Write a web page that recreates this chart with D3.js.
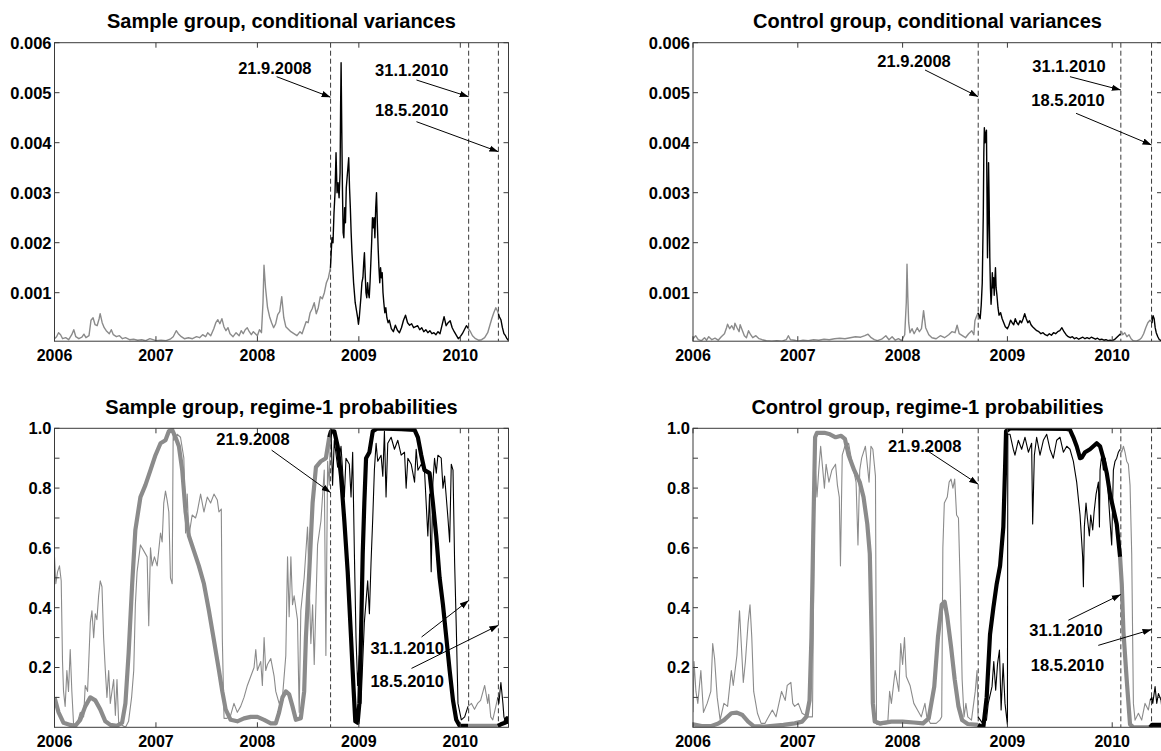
<!DOCTYPE html>
<html><head><meta charset="utf-8">
<script src="https://cdn.jsdelivr.net/npm/d3@7"></script>
<style>
body{margin:0;background:#fff}
svg{display:block;background:#fff}
text{font-family:"Liberation Sans",Arial,Helvetica,sans-serif;font-weight:bold;fill:#000}
</style>
</head><body>
<svg id="chart" width="1161" height="751"></svg>
<script>
// ---------------- data ----------------
const yearTicks = [2006, 2007, 2008, 2009, 2010];
const xDomain = [2006, 2010.475];
const varTicks = [0.001, 0.002, 0.003, 0.004, 0.005, 0.006];
const probTicks = [0.1, 0.2, 0.3, 0.4, 0.5, 0.6, 0.7, 0.8, 0.9, 1.0];
const probLabelTicks = [0.2, 0.4, 0.6, 0.8, 1.0];
const eventDates = [[2008, 9, 21], [2010, 1, 31], [2010, 5, 18]];
const eventLabels = ["21.9.2008", "31.1.2010", "18.5.2010"];
const titles = ["Sample group, conditional variances", "Control group, conditional variances",
                "Sample group, regime-1 probabilities", "Control group, regime-1 probabilities"];

// [decimal year, value]
const sampleVar = [
[2006.00,0.00008],[2006.02,0.00012],[2006.04,0.00020],[2006.06,0.00016],[2006.08,0.00008],[2006.11,0.00010],[2006.14,0.00006],[2006.17,0.00016],[2006.19,0.00026],[2006.21,0.00012],[2006.24,0.00008],[2006.27,0.00011],[2006.29,0.00017],[2006.31,0.00010],[2006.34,0.00014],[2006.36,0.00045],[2006.38,0.00050],[2006.40,0.00036],[2006.42,0.00034],[2006.44,0.00048],[2006.45,0.00058],[2006.47,0.00040],[2006.49,0.00030],[2006.51,0.00024],[2006.54,0.00018],[2006.56,0.00026],[2006.58,0.00016],[2006.61,0.00012],[2006.64,0.00014],[2006.67,0.00008],[2006.70,0.00010],[2006.74,0.00006],[2006.78,0.00007],[2006.82,0.00005],[2006.86,0.00006],[2006.90,0.00004],[2006.94,0.00008],[2006.97,0.00006],[2007.00,0.00004],[2007.05,0.00005],[2007.10,0.00004],[2007.14,0.00007],[2007.17,0.00012],[2007.20,0.00024],[2007.22,0.00018],[2007.25,0.00012],[2007.28,0.00008],[2007.32,0.00010],[2007.36,0.00008],[2007.40,0.00012],[2007.43,0.00010],[2007.46,0.00016],[2007.49,0.00012],[2007.51,0.00020],[2007.54,0.00014],[2007.57,0.00028],[2007.59,0.00040],[2007.61,0.00046],[2007.63,0.00038],[2007.65,0.00048],[2007.67,0.00032],[2007.69,0.00024],[2007.71,0.00030],[2007.73,0.00018],[2007.76,0.00012],[2007.79,0.00020],[2007.82,0.00014],[2007.84,0.00024],[2007.86,0.00018],[2007.88,0.00026],[2007.90,0.00030],[2007.92,0.00022],[2007.94,0.00016],[2007.96,0.00022],[2007.98,0.00018],[2008.00,0.00014],[2008.02,0.00026],[2008.04,0.00020],[2008.055,0.00080],[2008.065,0.00155],[2008.08,0.00110],[2008.10,0.00070],[2008.12,0.00052],[2008.14,0.00040],[2008.16,0.00030],[2008.18,0.00038],[2008.20,0.00056],[2008.22,0.00062],[2008.24,0.00092],[2008.26,0.00050],[2008.28,0.00032],[2008.30,0.00028],[2008.33,0.00022],[2008.36,0.00018],[2008.39,0.00014],[2008.42,0.00022],[2008.44,0.00018],[2008.46,0.00030],[2008.48,0.00042],[2008.50,0.00040],[2008.52,0.00060],[2008.54,0.00068],[2008.56,0.00080],[2008.58,0.00058],[2008.60,0.00070],[2008.62,0.00092],[2008.64,0.00088],[2008.66,0.00100],[2008.68,0.00120],[2008.70,0.00130],[2008.72,0.00150],
[2008.725,0.0017],[2008.735,0.0021],[2008.745,0.0020],[2008.755,0.0026],[2008.765,0.0030],[2008.775,0.0038],[2008.785,0.0030],[2008.795,0.0032],[2008.805,0.0029],[2008.815,0.0034],[2008.82,0.0047],[2008.825,0.0056],[2008.832,0.0042],[2008.838,0.0031],[2008.845,0.0022],[2008.852,0.0021],[2008.86,0.0027],[2008.868,0.0024],[2008.876,0.0031],[2008.884,0.0033],[2008.892,0.0035],[2008.90,0.0037],[2008.908,0.0031],[2008.916,0.0027],[2008.924,0.0022],[2008.932,0.0018],[2008.94,0.0015],[2008.948,0.0012],[2008.956,0.0010],[2008.964,0.0008],[2008.972,0.0007],[2008.98,0.0006],[2008.988,0.0005],[2008.996,0.00037],[2009.004,0.0005],[2009.012,0.0007],[2009.02,0.0009],[2009.03,0.0012],[2009.04,0.0013],[2009.048,0.0016],[2009.055,0.0018],[2009.062,0.0014],[2009.07,0.0010],[2009.078,0.0009],[2009.086,0.0012],[2009.094,0.0010],[2009.102,0.0009],[2009.11,0.0012],[2009.118,0.0016],[2009.126,0.0020],[2009.134,0.0025],[2009.142,0.0023],[2009.15,0.0025],[2009.158,0.0021],[2009.166,0.0027],[2009.174,0.0030],[2009.182,0.0024],[2009.19,0.0019],[2009.198,0.0015],[2009.206,0.0012],[2009.214,0.0015],[2009.222,0.0013],[2009.23,0.0014],[2009.238,0.0010],[2009.246,0.0008],[2009.256,0.0006],[2009.266,0.0007],[2009.276,0.0005],[2009.288,0.0004],[2009.30,0.00045],[2009.32,0.00028],[2009.34,0.00022],[2009.36,0.00035],[2009.38,0.00025],[2009.40,0.0002],[2009.42,0.0003],[2009.44,0.00045],[2009.46,0.00055],[2009.48,0.0004],[2009.50,0.00035],[2009.52,0.00038],[2009.54,0.0003],[2009.56,0.00032],[2009.58,0.00034],[2009.60,0.00026],[2009.62,0.0003],[2009.64,0.00022],[2009.66,0.00026],[2009.68,0.0002],[2009.70,0.00024],[2009.72,0.00018],[2009.74,0.0002],[2009.76,0.00016],[2009.78,0.00022],[2009.80,0.00018],[2009.82,0.00035],[2009.84,0.00052],[2009.86,0.00034],[2009.88,0.0004],[2009.90,0.00044],[2009.92,0.0003],[2009.94,0.00022],[2009.96,0.00015],[2009.98,0.00008],[2010.00,0.00012],[2010.02,0.00018],[2010.04,0.00026],[2010.06,0.00034],[2010.08,0.00028],
[2010.10,0.00022],[2010.12,0.00014],[2010.15,0.00008],[2010.18,0.00005],[2010.21,0.00006],[2010.24,0.00010],[2010.27,0.00020],[2010.29,0.00034],[2010.31,0.00048],[2010.33,0.00060],[2010.35,0.00070],[2010.365,0.00064],[2010.375,0.00058],
[2010.385,0.00052],[2010.40,0.00046],[2010.415,0.00030],[2010.43,0.00018],[2010.445,0.00014],[2010.46,0.00008],[2010.475,0.00004]
];

const controlVar = [
[2006.00,0.00008],[2006.025,0.00014],[2006.05,0.00006],[2006.08,0.00004],[2006.11,0.00010],[2006.13,0.00005],[2006.15,0.00012],[2006.18,0.00006],[2006.21,0.00009],[2006.24,0.00005],[2006.27,0.00012],[2006.30,0.00018],[2006.32,0.00030],[2006.33,0.00037],[2006.35,0.00028],[2006.37,0.00034],[2006.39,0.00026],[2006.40,0.00039],[2006.42,0.00030],[2006.44,0.00022],[2006.45,0.00036],[2006.47,0.00025],[2006.49,0.00014],[2006.51,0.00010],[2006.53,0.00024],[2006.55,0.00016],[2006.57,0.00010],[2006.60,0.00014],[2006.63,0.00008],[2006.66,0.00006],[2006.70,0.00004],[2006.75,0.00003],[2006.80,0.00004],[2006.85,0.00003],[2006.89,0.00006],[2006.91,0.00014],[2006.93,0.00006],[2006.97,0.00005],[2007.00,0.00003],[2007.05,0.00005],[2007.10,0.00004],[2007.15,0.00006],[2007.20,0.00005],[2007.25,0.00007],[2007.30,0.00006],[2007.35,0.00008],[2007.40,0.00009],[2007.45,0.00008],[2007.50,0.00010],[2007.55,0.00012],[2007.60,0.00011],[2007.64,0.00014],[2007.67,0.00017],[2007.70,0.00010],[2007.73,0.00006],[2007.76,0.00004],[2007.80,0.00007],[2007.84,0.00014],[2007.87,0.00006],[2007.90,0.00012],[2007.93,0.00005],[2007.96,0.00008],[2007.99,0.00004],[2008.02,0.00016],[2008.035,0.00080],[2008.042,0.00157],[2008.05,0.00090],[2008.058,0.00040],[2008.07,0.00020],[2008.09,0.00028],[2008.11,0.00018],[2008.14,0.00030],[2008.16,0.00022],[2008.18,0.00028],[2008.20,0.00064],[2008.22,0.00030],[2008.25,0.00016],[2008.28,0.00010],[2008.32,0.00008],[2008.36,0.00014],[2008.40,0.00010],[2008.44,0.00016],[2008.47,0.00022],[2008.50,0.00020],[2008.52,0.00035],[2008.54,0.00018],[2008.57,0.00014],[2008.60,0.00010],[2008.63,0.00018],[2008.66,0.00024],[2008.68,0.00016],[2008.69,0.00044],[2008.70,0.00050],[2008.72,0.00060],
[2008.73,0.00055],[2008.74,0.00048],[2008.75,0.00075],[2008.76,0.00120],[2008.77,0.00260],[2008.775,0.00380],[2008.78,0.00430],[2008.787,0.00400],[2008.795,0.00420],[2008.80,0.00425],[2008.805,0.00300],[2008.81,0.00170],[2008.815,0.00240],[2008.82,0.00360],[2008.826,0.00280],[2008.832,0.00170],[2008.838,0.00110],[2008.844,0.00077],[2008.85,0.00100],[2008.856,0.00140],[2008.862,0.00110],[2008.868,0.00130],[2008.874,0.00095],[2008.88,0.00125],[2008.886,0.00150],[2008.892,0.00110],[2008.90,0.00095],[2008.91,0.00070],[2008.92,0.00055],[2008.935,0.00060],[2008.95,0.00048],[2008.965,0.00040],[2008.98,0.00032],[2009.00,0.00028],[2009.015,0.00035],[2009.03,0.00045],[2009.045,0.00040],[2009.06,0.00036],[2009.075,0.00048],[2009.09,0.00040],[2009.105,0.00036],[2009.12,0.00044],[2009.135,0.00040],[2009.15,0.00048],[2009.165,0.00058],[2009.18,0.00048],[2009.195,0.00040],[2009.21,0.00044],[2009.225,0.00036],[2009.24,0.00032],[2009.26,0.00028],[2009.28,0.00024],[2009.30,0.00022],[2009.32,0.00018],[2009.34,0.00020],[2009.36,0.00016],[2009.38,0.00014],[2009.40,0.00018],[2009.42,0.00015],[2009.44,0.00020],[2009.46,0.00018],[2009.48,0.00022],[2009.50,0.00024],[2009.52,0.00030],[2009.54,0.00022],[2009.56,0.00016],[2009.58,0.00012],[2009.60,0.00010],[2009.62,0.00012],[2009.64,0.00008],[2009.66,0.00010],[2009.68,0.00007],[2009.70,0.00009],[2009.72,0.00011],[2009.74,0.00008],[2009.76,0.00010],[2009.78,0.00008],[2009.80,0.00011],[2009.82,0.00009],[2009.84,0.00007],[2009.86,0.00009],[2009.88,0.00006],[2009.90,0.00007],[2009.92,0.00005],[2009.94,0.00006],[2009.96,0.00004],[2009.98,0.00005],[2010.00,0.00004],[2010.02,0.00006],[2010.04,0.00010],[2010.06,0.00014],[2010.08,0.00018],
[2010.09,0.00022],[2010.10,0.00016],[2010.12,0.00020],[2010.14,0.00012],[2010.16,0.00016],[2010.18,0.00008],[2010.20,0.00004],[2010.23,0.00003],[2010.26,0.00006],[2010.28,0.00010],[2010.30,0.00018],[2010.32,0.00030],[2010.34,0.00040],[2010.36,0.00045],[2010.375,0.00042],
[2010.38,0.00040],[2010.385,0.00050],[2010.39,0.00054],[2010.40,0.00048],[2010.41,0.00030],[2010.42,0.00020],[2010.435,0.00012],[2010.45,0.00006],[2010.475,0.00003]
];

const sampleThin = [
[2006.0,0.57],[2006.013,0.48],[2006.03,0.52],[2006.049,0.54],[2006.066,0.49],[2006.079,0.22],[2006.089,0.12],[2006.105,0.07],[2006.122,0.19],[2006.138,0.12],[2006.155,0.26],[2006.171,0.12],[2006.188,0.01],[2006.221,0.01],[2006.254,0.05],[2006.287,0.035],[2006.303,0.14],[2006.326,0.12],[2006.353,0.35],[2006.369,0.39],[2006.386,0.30],[2006.402,0.38],[2006.418,0.36],[2006.435,0.44],[2006.451,0.49],[2006.468,0.47],[2006.484,0.30],[2006.501,0.19],[2006.517,0.10],[2006.534,0.19],[2006.55,0.08],[2006.583,0.16],[2006.6,0.04],[2006.616,0.16],[2006.633,0.01],[2006.649,0.01],[2006.70,0.0],[2006.73,0.02],[2006.76,0.1],[2006.781,0.19],[2006.797,0.41],[2006.814,0.52],[2006.847,0.61],[2006.88,0.59],[2006.913,0.57],[2006.929,0.34],[2006.946,0.60],[2006.962,0.54],[2006.985,0.57],[2007.012,0.54],[2007.045,0.65],[2007.061,0.62],[2007.077,0.75],[2007.094,0.79],[2007.11,0.76],[2007.127,0.72],[2007.143,0.50],[2007.16,0.48],[2007.17,1.0],[2007.176,0.96],[2007.209,0.98],[2007.242,0.97],[2007.275,0.90],[2007.292,0.65],[2007.308,0.78],[2007.325,0.64],[2007.357,0.71],[2007.39,0.70],[2007.407,0.72],[2007.44,0.78],[2007.473,0.72],[2007.506,0.77],[2007.539,0.75],[2007.572,0.78],[2007.605,0.76],[2007.621,0.72],[2007.644,0.73],[2007.654,0.30],[2007.671,0.03],[2007.70,0.03],[2007.736,0.04],[2007.769,0.08],[2007.802,0.05],[2007.835,0.07],[2007.868,0.10],[2007.901,0.14],[2007.934,0.17],[2007.967,0.20],[2007.984,0.26],[2008.0,0.19],[2008.033,0.22],[2008.049,0.14],[2008.066,0.30],[2008.082,0.19],[2008.099,0.21],[2008.132,0.23],[2008.165,0.17],[2008.181,0.12],[2008.214,0.08],[2008.247,0.10],[2008.28,0.24],[2008.297,0.57],[2008.313,0.37],[2008.33,0.57],[2008.346,0.41],[2008.362,0.44],[2008.395,0.36],[2008.412,0.05],[2008.428,0.39],[2008.461,0.50],[2008.494,0.67],[2008.527,0.28],[2008.544,0.41],[2008.56,0.21],[2008.593,0.61],[2008.626,0.69],[2008.659,0.86],[2008.675,0.24],[2008.692,0.89],[2008.708,0.81],[2008.72,1.0],
[2008.725,1.0],[2008.741,0.81],[2008.758,0.96],[2008.791,0.87],[2008.824,0.94],[2008.857,0.77],[2008.873,0.90],[2008.906,0.88],[2008.923,0.77],[2008.939,0.92],[2008.956,0.58],[2008.972,0.30],[2008.988,0.14],[2009.005,0.24],[2009.021,0.08],[2009.054,0.35],[2009.087,0.49],[2009.104,0.38],[2009.12,0.55],[2009.137,0.70],[2009.153,0.86],[2009.17,0.95],[2009.186,0.89],[2009.219,0.91],[2009.236,0.84],[2009.252,0.99],[2009.268,0.77],[2009.285,0.95],[2009.318,0.97],[2009.351,0.93],[2009.384,0.96],[2009.417,0.91],[2009.45,0.92],[2009.466,0.80],[2009.483,0.90],[2009.516,0.88],[2009.549,0.82],[2009.565,0.93],[2009.582,0.86],[2009.615,0.88],[2009.647,0.86],[2009.68,0.64],[2009.697,0.78],[2009.713,0.52],[2009.73,0.82],[2009.746,0.90],[2009.763,0.85],[2009.779,0.91],[2009.812,0.90],[2009.829,0.80],[2009.845,0.84],[2009.878,0.70],[2009.895,0.62],[2009.911,0.88],[2009.928,0.86],[2009.944,0.55],[2009.96,0.34],[2009.977,0.08],[2010.01,0.025],[2010.043,0.035],[2010.076,0.07],
[2010.11,0.08],[2010.14,0.06],[2010.17,0.08],[2010.20,0.09],[2010.24,0.14],[2010.27,0.08],[2010.28,0.11],[2010.30,0.035],[2010.32,0.025],[2010.35,0.07],[2010.37,0.10],
[2010.38,0.08],[2010.40,0.15],[2010.42,0.08],[2010.43,0.035],[2010.45,0.013],[2010.46,0.035],[2010.475,0.013]
];

const sampleThick = [
[2006.0,0.10],[2006.04,0.05],[2006.089,0.015],[2006.155,0.008],[2006.204,0.005],[2006.254,0.025],[2006.303,0.07],[2006.353,0.10],[2006.402,0.09],[2006.451,0.06],[2006.501,0.02],[2006.55,0.008],[2006.616,0.005],[2006.666,0.015],[2006.699,0.08],[2006.731,0.25],[2006.764,0.47],[2006.797,0.66],[2006.847,0.77],[2006.896,0.81],[2006.946,0.86],[2006.995,0.91],[2007.045,0.95],[2007.094,0.96],[2007.127,0.99],[2007.16,0.995],[2007.193,0.97],[2007.226,0.94],[2007.259,0.86],[2007.292,0.72],[2007.325,0.64],[2007.374,0.59],[2007.423,0.54],[2007.473,0.48],[2007.522,0.39],[2007.572,0.29],[2007.621,0.19],[2007.654,0.12],[2007.687,0.06],[2007.736,0.025],[2007.802,0.02],[2007.868,0.03],[2007.934,0.035],[2008.0,0.035],[2008.066,0.025],[2008.132,0.013],[2008.181,0.013],[2008.214,0.05],[2008.247,0.10],[2008.28,0.12],[2008.313,0.11],[2008.346,0.07],[2008.379,0.025],[2008.428,0.03],[2008.461,0.12],[2008.478,0.30],[2008.511,0.52],[2008.544,0.75],[2008.577,0.87],[2008.626,0.89],[2008.675,0.90],[2008.708,0.97],
[2008.725,0.99],[2008.758,0.99],[2008.791,0.94],[2008.824,0.84],[2008.857,0.69],[2008.89,0.52],[2008.923,0.30],[2008.946,0.14],[2008.965,0.02],[2008.988,0.015],[2009.005,0.08],[2009.021,0.30],[2009.038,0.58],[2009.054,0.75],[2009.071,0.90],[2009.104,0.92],[2009.137,0.99],[2009.186,1.0],[2009.417,0.997],[2009.549,0.995],[2009.582,0.97],[2009.615,0.91],[2009.647,0.86],[2009.697,0.85],[2009.73,0.75],[2009.763,0.64],[2009.796,0.50],[2009.829,0.41],[2009.862,0.30],[2009.895,0.19],[2009.928,0.09],[2009.96,0.025],[2009.993,0.005],[2010.076,0.005],
[2010.15,0.005],[2010.25,0.005],[2010.37,0.005],
[2010.40,0.01],[2010.44,0.015],[2010.46,0.03],[2010.475,0.012]
];

const controlThin = [
[2006.0,0.05],[2006.01,0.22],[2006.028,0.12],[2006.046,0.08],[2006.075,0.19],[2006.10,0.05],[2006.135,0.08],[2006.17,0.12],[2006.188,0.28],[2006.206,0.23],[2006.231,0.10],[2006.259,0.025],[2006.295,0.08],[2006.33,0.07],[2006.366,0.19],[2006.384,0.14],[2006.419,0.24],[2006.444,0.39],[2006.465,0.25],[2006.48,0.15],[2006.50,0.22],[2006.526,0.35],[2006.544,0.41],[2006.561,0.30],[2006.579,0.12],[2006.615,0.047],[2006.65,0.013],[2006.686,0.013],[2006.721,0.035],[2006.757,0.058],[2006.792,0.035],[2006.845,0.12],[2006.88,0.09],[2006.899,0.14],[2006.934,0.15],[2006.952,0.08],[2006.97,0.07],[2007.005,0.08],[2007.041,0.047],[2007.094,0.035],[2007.14,0.035],[2007.162,0.90],[2007.183,0.77],[2007.20,0.86],[2007.218,0.94],[2007.236,0.87],[2007.254,0.80],[2007.27,0.88],[2007.297,0.82],[2007.325,0.86],[2007.36,0.88],[2007.378,0.81],[2007.396,0.77],[2007.407,0.54],[2007.424,0.91],[2007.449,0.94],[2007.485,0.95],[2007.52,0.88],[2007.556,0.82],[2007.574,0.61],[2007.591,0.86],[2007.609,0.90],[2007.645,0.94],[2007.68,0.82],[2007.698,0.94],[2007.716,0.93],[2007.741,0.84],[2007.751,0.01],[2007.787,0.008],[2007.858,0.013],[2007.876,0.12],[2007.893,0.08],[2007.929,0.19],[2007.964,0.12],[2007.982,0.28],[2008.0,0.21],[2008.018,0.30],[2008.035,0.17],[2008.071,0.14],[2008.107,0.08],[2008.142,0.058],[2008.178,0.035],[2008.213,0.08],[2008.231,0.035],[2008.266,0.013],[2008.32,0.013],[2008.355,0.024],[2008.373,0.035],[2008.384,0.60],[2008.398,0.75],[2008.426,0.77],[2008.444,0.82],[2008.462,0.83],[2008.48,0.80],[2008.497,0.83],[2008.515,0.71],[2008.533,0.70],[2008.55,0.47],[2008.568,0.16],[2008.586,0.035],[2008.604,0.08],[2008.622,0.035],[2008.657,0.024],[2008.693,0.12],[2008.71,0.19],[2008.72,0.035],
[2008.764,0.013],[2008.80,0.024],[2008.817,0.08],[2008.853,0.136],[2008.87,0.22],[2008.888,0.124],[2008.906,0.213],[2008.924,0.258],[2008.94,0.058],[2008.959,0.213],[2008.977,0.08],[2008.995,0.024],[2009.0,0.01],[2009.004,0.98],[2009.025,0.98],[2009.056,0.93],[2009.072,0.91],[2009.104,0.96],[2009.136,0.93],[2009.168,0.97],[2009.20,0.92],[2009.231,0.95],[2009.241,0.68],[2009.257,0.91],[2009.279,0.97],[2009.311,0.91],[2009.343,0.96],[2009.375,0.98],[2009.406,0.93],[2009.438,0.90],[2009.47,0.96],[2009.502,0.97],[2009.534,0.92],[2009.566,0.94],[2009.597,0.93],[2009.629,0.89],[2009.661,0.82],[2009.693,0.71],[2009.718,0.57],[2009.725,0.47],[2009.734,0.67],[2009.75,0.75],[2009.763,0.70],[2009.782,0.64],[2009.795,0.71],[2009.814,0.66],[2009.827,0.72],[2009.846,0.78],[2009.868,0.82],[2009.878,0.67],[2009.884,0.86],[2009.90,0.91],[2009.916,0.86],[2009.932,0.90],[2009.948,0.86],[2009.979,0.69],[2009.995,0.61],[2010.011,0.86],[2010.027,0.89],[2010.043,0.90],[2010.059,0.92],[2010.075,0.93],
[2010.091,0.92],[2010.107,0.94],[2010.122,0.92],[2010.138,0.89],[2010.154,0.88],[2010.17,0.81],[2010.186,0.58],[2010.202,0.08],[2010.218,0.024],[2010.25,0.047],[2010.281,0.024],[2010.313,0.08],[2010.345,0.058],[2010.361,0.09],
[2010.378,0.10],[2010.387,0.08],[2010.409,0.136],[2010.425,0.08],[2010.441,0.113],[2010.466,0.09],[2010.475,0.06]
];

const controlThick = [
[2006.0,0.01],[2006.082,0.004],[2006.17,0.004],[2006.242,0.013],[2006.295,0.024],[2006.366,0.047],[2006.419,0.049],[2006.472,0.041],[2006.526,0.019],[2006.579,0.004],[2006.686,0.002],[2006.863,0.008],[2006.97,0.013],[2007.041,0.019],[2007.083,0.036],[2007.112,0.09],[2007.13,0.30],[2007.147,0.64],[2007.165,0.97],[2007.183,0.985],[2007.254,0.985],[2007.307,0.98],[2007.361,0.97],[2007.414,0.975],[2007.449,0.965],[2007.485,0.91],[2007.538,0.86],[2007.591,0.82],[2007.627,0.77],[2007.663,0.68],[2007.687,0.58],[2007.705,0.30],[2007.716,0.08],[2007.734,0.019],[2007.787,0.013],[2007.893,0.019],[2008.0,0.019],[2008.107,0.016],[2008.195,0.013],[2008.249,0.03],[2008.302,0.136],[2008.337,0.30],[2008.373,0.41],[2008.401,0.42],[2008.426,0.37],[2008.462,0.27],[2008.497,0.16],[2008.533,0.07],[2008.568,0.024],[2008.622,0.011],[2008.72,0.008],
[2008.77,0.0],[2008.802,0.10],[2008.834,0.31],[2008.866,0.40],[2008.898,0.48],[2008.93,0.54],[2008.961,0.67],[2008.977,0.86],[2008.987,0.99],[2009.025,1.0],[2009.566,0.998],[2009.597,0.995],[2009.629,0.97],[2009.661,0.94],[2009.693,0.90],[2009.709,0.902],[2009.741,0.92],[2009.788,0.93],[2009.852,0.95],[2009.884,0.94],[2009.916,0.90],[2009.948,0.85],[2009.979,0.78],[2010.011,0.73],[2010.043,0.68],[2010.075,0.57],
[2010.091,0.48],[2010.107,0.32],[2010.138,0.16],[2010.17,0.01],[2010.202,0.0],[2010.361,0.0],
[2010.38,0.008],[2010.475,0.008]
];

// annotation placement: text anchor (year, value), arrow tail (year, value), arrow head value at event date
const sampleVarNotes = [
  {ev:0, tx:2008.172, ty:0.00537, ax:2008.19, ay:0.00532, hy:0.00491},
  {ev:1, tx:2009.522, ty:0.00534, ax:2009.568, ay:0.005254, hy:0.00492},
  {ev:2, tx:2009.522, ty:0.00454, ax:2009.568, ay:0.00442, hy:0.00382}
];
const controlVarNotes = [
  {ev:0, tx:2008.109, ty:0.00551, ax:2008.214, ay:0.005454, hy:0.00492},
  {ev:1, tx:2009.588, ty:0.00541, ax:2009.597, ay:0.00532, hy:0.005054},
  {ev:2, tx:2009.578, ty:0.00474, ax:2009.655, ay:0.004588, hy:0.003954}
];
const sampleProbNotes = [
  {ev:0, tx:2007.956, ty:0.944, ax:2008.14, ay:0.927, hy:0.785},
  {ev:1, tx:2009.476, ty:0.244, ax:2009.618, ay:0.302, hy:0.424},
  {ev:2, tx:2009.476, ty:0.136, ax:2009.519, ay:0.197, hy:0.341}
];
const controlProbNotes = [
  {ev:0, tx:2008.211, ty:0.922, ax:2008.214, ay:0.93, hy:0.813},
  {ev:1, tx:2009.559, ty:0.305, ax:2009.581, ay:0.358, hy:0.444},
  {ev:2, tx:2009.573, ty:0.189, ax:2009.867, ay:0.274, hy:0.327}
];

// ---------------- drawing ----------------
const GRAY = "#8b8b8b", BLACK = "#000";
function decYear(y, m, d) {
  const s = Date.UTC(y, 0, 1), e = Date.UTC(y + 1, 0, 1);
  return y + (Date.UTC(y, m - 1, d) - s) / (e - s);
}
const eventYears = eventDates.map(d => decYear(d[0], d[1], d[2]));

const svg = d3.select("#chart");
const defs = svg.append("defs");
defs.append("marker").attr("id", "arrow").attr("viewBox", "0 0 10 10")
  .attr("refX", 10).attr("refY", 5).attr("markerWidth", 9).attr("markerHeight", 9)
  .attr("markerUnits", "userSpaceOnUse").attr("orient", "auto")
  .append("path").attr("d", "M0,1.5 L10,5 L0,8.5 Z").attr("fill", "#000");

const panels = [
  {title: titles[0], box: [54.5, 508.5, 42.7, 341.2], yDomain: [0.00003, 0.006], type: "var",
   thin: sampleVar, notes: sampleVarNotes},
  {title: titles[1], box: [693, 1162, 42.7, 341.2], yDomain: [0.00003, 0.006], type: "var",
   thin: controlVar, notes: controlVarNotes},
  {title: titles[2], box: [54.5, 508.5, 428.3, 727.3], yDomain: [0, 1], type: "prob",
   thin: sampleThin, thick: sampleThick, notes: sampleProbNotes},
  {title: titles[3], box: [693, 1162, 428.3, 727.3], yDomain: [0, 1], type: "prob",
   thin: controlThin, thick: controlThick, notes: controlProbNotes}
];

function segments(data) {
  const bounds = [-Infinity, ...eventYears, Infinity];
  const out = [];
  for (let i = 0; i < bounds.length - 1; i++) {
    const a = bounds[i], b = bounds[i + 1];
    let pts = data.filter(d => d[0] >= a && d[0] < b);
    const prev = data.filter(d => d[0] < a);
    if (prev.length && pts.length) pts = [prev[prev.length - 1], ...pts];
    if (pts.length) out.push({pts, color: i % 2 === 0 ? GRAY : BLACK});
  }
  return out;
}

panels.forEach((p, pi) => {
  const [x0, x1, y0, y1] = p.box;
  const x = d3.scaleLinear().domain(xDomain).range([x0, x1]);
  const y = d3.scaleLinear().domain(p.yDomain).range([y1, y0]);
  const g = svg.append("g");
  const clipId = "clip" + pi;
  defs.append("clipPath").attr("id", clipId).append("rect")
    .attr("x", x0).attr("y", y0).attr("width", x1 - x0).attr("height", y1 - y0);

  const plot = g.append("g").attr("clip-path", `url(#${clipId})`);
  // event dashed lines
  plot.selectAll("line.ev").data(eventYears).enter().append("line")
    .attr("x1", d => x(d)).attr("x2", d => x(d)).attr("y1", y0).attr("y2", y1)
    .attr("stroke", "#3a3a3a").attr("stroke-width", 1).attr("stroke-dasharray", "5,3");

  const line = d3.line().x(d => x(d[0])).y(d => y(d[1]));
  if (p.thick) {
    segments(p.thick).forEach(s => plot.append("path").attr("d", line(s.pts))
      .attr("fill", "none").attr("stroke", s.color).attr("stroke-width", 4.2)
      .attr("stroke-linejoin", "round").attr("stroke-linecap", "butt"));
  }
  segments(p.thin).forEach(s => plot.append("path").attr("d", line(s.pts))
    .attr("fill", "none").attr("stroke", s.color)
    .attr("stroke-width", p.type === "var" ? 1.4 : 1.1).attr("stroke-linejoin", "round"));

  // box
  g.append("rect").attr("x", x0).attr("y", y0).attr("width", x1 - x0).attr("height", y1 - y0)
    .attr("fill", "none").attr("stroke", "#3a3a3a").attr("stroke-width", 1);

  // ticks
  const tl = 5;
  const yT = p.type === "var" ? varTicks : probTicks;
  const tickG = g.append("g").attr("stroke", "#3a3a3a").attr("stroke-width", 1);
  yT.forEach(v => {
    tickG.append("line").attr("x1", x0).attr("x2", x0 + tl).attr("y1", y(v)).attr("y2", y(v));
    tickG.append("line").attr("x1", x1).attr("x2", x1 - tl).attr("y1", y(v)).attr("y2", y(v));
  });
  yearTicks.forEach(v => {
    tickG.append("line").attr("x1", x(v)).attr("x2", x(v)).attr("y1", y1).attr("y2", y1 - tl);
    tickG.append("line").attr("x1", x(v)).attr("x2", x(v)).attr("y1", y0).attr("y2", y0 + tl);
  });

  // tick labels
  const yL = p.type === "var" ? varTicks : probLabelTicks;
  const fmt = p.type === "var" ? d3.format(".3f") : d3.format(".1f");
  g.selectAll("text.yl").data(yL).enter().append("text")
    .attr("x", x0 - 3).attr("y", d => y(d)).attr("dy", "0.36em")
    .attr("text-anchor", "end").attr("font-size", 16.5).text(d => fmt(d));
  g.selectAll("text.xl").data(yearTicks).enter().append("text")
    .attr("x", d => x(d)).attr("y", y1 + 20).attr("text-anchor", "middle")
    .attr("font-size", 16).text(d => d);

  // title
  g.append("text").attr("x", (x0 + x1) / 2).attr("y", y0 - 14.5).attr("text-anchor", "middle")
    .attr("font-size", 20).text(p.title);

  // annotations
  p.notes.forEach(n => {
    g.append("text").attr("x", x(n.tx)).attr("y", y(n.ty)).attr("text-anchor", "middle")
      .attr("font-size", 16.5).text(eventLabels[n.ev]);
    g.append("line").attr("x1", x(n.ax)).attr("y1", y(n.ay))
      .attr("x2", x(eventYears[n.ev])).attr("y2", y(n.hy))
      .attr("stroke", "#000").attr("stroke-width", 1).attr("marker-end", "url(#arrow)");
  });
});
</script>
</body></html>
